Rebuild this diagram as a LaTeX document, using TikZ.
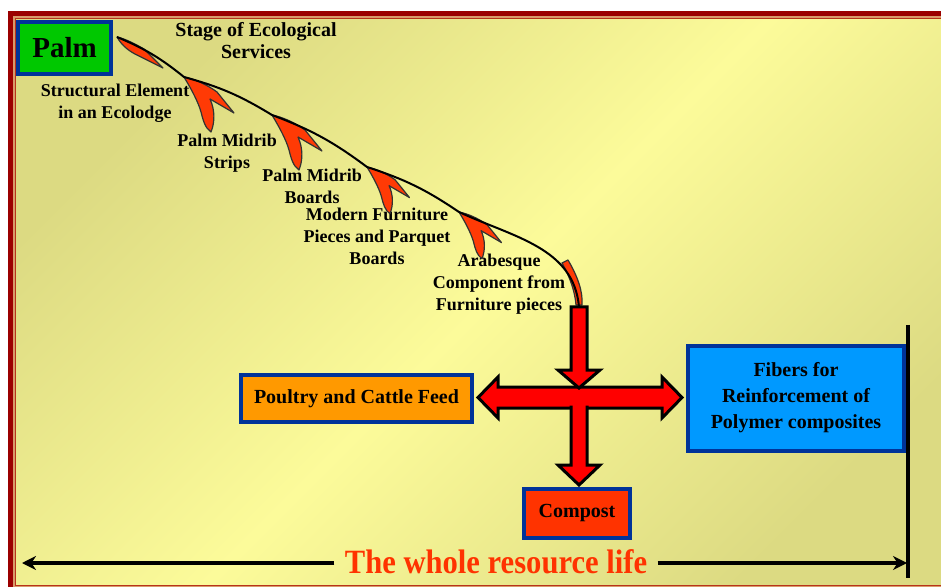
\documentclass[tikz,border=0pt]{standalone}
\usepackage{fontspec}
\setmainfont{Liberation Serif}
\usepackage{xcolor}
\usepackage{tikz}
\usetikzlibrary{arrows.meta,calc}

\definecolor{framered}{HTML}{9B0000}
\definecolor{frametan}{HTML}{D89A6A}
\definecolor{frameline}{HTML}{B8331A}
\definecolor{bgdark}{HTML}{DCDA82}
\definecolor{bglight}{HTML}{FCFB9A}
\definecolor{boxblue}{HTML}{003399}
\definecolor{palmgreen}{HTML}{00C800}
\definecolor{feedorange}{HTML}{FF9900}
\definecolor{compostred}{HTML}{FF3300}
\definecolor{fiberblue}{HTML}{0099FF}
\definecolor{arrowred}{HTML}{FF0000}
\definecolor{flamered}{HTML}{FF3A05}
\definecolor{lifered}{HTML}{FF3300}

\begin{document}
\begin{tikzpicture}[x=0.5pt,y=-0.5pt,>=Stealth,
  every node/.style={font=\bfseries\fontsize{9}{11}\selectfont,align=center,inner sep=0pt},
  box/.style={draw=boxblue,line width=2pt},
  bigtext/.style={font=\bfseries\fontsize{10}{13}\selectfont},
  blockarr/.style={fill=arrowred,draw=black,line width=1.5pt,line join=miter},
  flamestyle/.style={fill=flamered,draw=black!80,line width=0.6pt,line join=round},
  chain/.style={draw=black,line width=1pt},
  lifearrow/.style={line width=2pt,-{Stealth[length=7pt,width=7pt]}},
  flame/.pic={\filldraw[flamestyle] (0,0) .. controls (10,2) and (22,7) .. (33,15) -- (50,36) -- (26,22)
    .. controls (31,33) and (31,45) .. (27,55) .. controls (21,51) and (19,43) .. (17,35)
    .. controls (14,24) and (6,10) .. cycle;},
  flamehead/.pic={\filldraw[flamestyle] (0,0) .. controls (9,2) and (18,7) .. (27,12) -- (46,31) -- (22,19)
    .. controls (13,15) and (5,9) .. cycle;}]

  % frame and background
  \useasboundingbox (0,0) rectangle (941,587);
  \begin{scope}
    \clip (0,0) rectangle (941,587);
    \fill[framered] (8,11) rectangle (960,600);
    \fill[frametan] (13,16) rectangle (960,590);
    \fill[frameline] (15,18) rectangle (960,586);
    \shade[top color=bgdark,bottom color=bgdark,middle color=bglight,shading angle=45] (16,19.5) rectangle (960,584.5);
  \end{scope}

  % boxes
  \node[box,fill=palmgreen,minimum width=46.5pt,minimum height=26pt,font=\bfseries\fontsize{14.5}{16}\selectfont] (palm) at (64.5,48) {Palm};
  \node[box,bigtext,fill=feedorange,minimum width=115.5pt,minimum height=23.5pt] (feed) at (356.5,398.5) {Poultry and Cattle Feed};
  \node[box,bigtext,fill=compostred,minimum width=53pt,minimum height=24.5pt] (compost) at (577,513.5) {Compost};
  \node[box,bigtext,fill=fiberblue,minimum width=108pt,minimum height=52.5pt] (fibers) at (796,398) {Fibers for\\Reinforcement of\\Polymer composites};

  % stages
  \node[font=\bfseries\fontsize{10}{11}\selectfont] (stage) at (256,41) {Stage of Ecological\\Services};
  \node (ecolodge) at (115,103) {Structural Element\\in an Ecolodge};
  \node (strips) at (227,153) {Palm Midrib\\Strips};
  \node (boards) at (312,186) {Palm Midrib\\Boards};
  \node (parquet) at (377,236) {Modern Furniture\\Pieces and Parquet\\Boards};
  \node (arabesque) at (499,284) {Arabesque\\Component from\\Furniture pieces};

  \coordinate (t1) at ($(palm.north east)+(4,17)$);
  \coordinate (t2) at (184,77);
  \coordinate (t3) at (272,115);
  \coordinate (t4) at (367,167);
  \coordinate (t5) at (459,212);
  \coordinate (drop) at (579,307);
  \coordinate (hub) at (579,397.5);

  % chain of stages
  \pic at (t1) {flamehead};
  \pic at (t2) {flame};
  \pic at (t3) {flame};
  \pic[scale=0.85] at (t4) {flame};
  \pic[scale=0.85] at (t5) {flame};
  \filldraw[flamestyle] ($(drop)+(-17,-44)$) -- ($(drop)+(-11,-47)$) .. controls ($(drop)+(-1,-30)$) and ($(drop)+(4,-15)$) .. ($(drop)+(3,-2)$)
    -- ($(drop)+(-3,-2)$) .. controls ($(drop)+(-4,-15)$) and ($(drop)+(-9,-30)$) .. cycle;
  \draw[chain] (t1) to[bend left=8] (t2) to[bend left=8] (t3) to[bend left=8] (t4) to[bend left=8] (t5)
    to[out=-25,in=95] (drop);

  % cross of arrows
  \coordinate (hl) at ($(hub -| feed.east)+(4,0)$);
  \coordinate (hr) at ($(hub -| fibers.west)+(-4,0)$);
  \coordinate (tipA) at ($(hub)+(0,-9.5)$);
  \coordinate (tipB) at ($(hub |- compost.north)+(0,-2)$);
  \draw[blockarr] (hl) -- ($(hl)+(20,-20.5)$) -- ($(hl)+(20,-10.5)$) -- ($(hr)+(-20,-10.5)$) -- ($(hr)+(-20,-20.5)$)
    -- (hr) -- ($(hr)+(-20,20.5)$) -- ($(hr)+(-20,10.5)$) -- ($(hl)+(20,10.5)$) -- ($(hl)+(20,20.5)$) -- cycle;
  \draw[blockarr] ($(drop)+(-8,0)$) -- ($(drop)+(8,0)$) -- ($(tipA)+(8,-18)$) -- ($(tipA)+(21,-18)$) -- (tipA)
    -- ($(tipA)+(-21,-18)$) -- ($(tipA)+(-8,-18)$) -- cycle;
  \draw[blockarr] ($(hub)+(-8,8)$) -- ($(tipB)+(-8,-20)$) -- ($(tipB)+(-21,-20)$) -- (tipB)
    -- ($(tipB)+(21,-20)$) -- ($(tipB)+(8,-20)$) -- ($(hub)+(8,8)$);

  % resource life
  \node[font=\bfseries\fontsize{17}{19}\selectfont,text=lifered] (life) at (496,562) {\scalebox{0.9}[1]{The whole resource life}};
  \coordinate (endtop) at (908,325);
  \coordinate (endbot) at (908,578);
  \coordinate (lifeL) at (22,563);
  \draw[line width=2pt] (endtop) -- (endbot);
  \draw[lifearrow] ($(life.west |- lifeL)+(-10,0)$) -- (lifeL);
  \draw[lifearrow] ($(life.east |- lifeL)+(10,0)$) -- ($(endtop |- lifeL)+(-1,0)$);
\end{tikzpicture}
\end{document}
